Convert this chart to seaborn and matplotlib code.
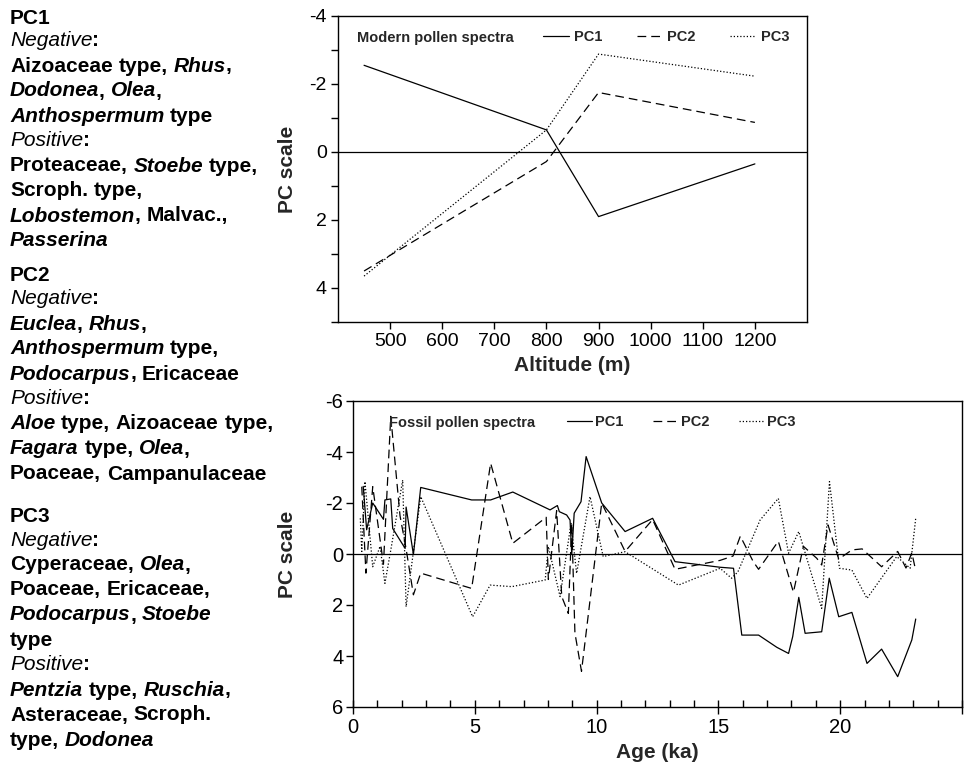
import matplotlib
matplotlib.use("Agg")
import matplotlib.pyplot as plt
from matplotlib.ticker import MultipleLocator, FixedLocator, FixedFormatter
import numpy as np
import pandas as pd
import seaborn as sns

sns.set_theme(style="white")
plt.rcParams["font.family"] = ["Liberation Sans", "DejaVu Sans"]
plt.rcParams["axes.edgecolor"] = "black"
plt.rcParams["axes.unicode_minus"] = False
plt.rcParams["xtick.color"] = "black"
plt.rcParams["ytick.color"] = "black"

# ---- modern pollen spectra (altitude transect) ----
altitude = [450, 800, 900, 1200]
modern_pc1 = [-2.55, -0.65, 1.90, 0.35]
modern_pc2 = [3.50, 0.28, -1.75, -0.87]
modern_pc3 = [3.65, -0.65, -2.88, -2.23]

# ---- fossil pollen spectra (age in ka) ----
age_pc1 = [0.42, 0.56, 0.81, 1.25, 1.31, 1.55, 1.63, 2.14, 2.18, 2.48, 2.78, 4.87,
           5.65, 6.56, 8.09, 8.39, 8.47, 8.77, 8.91, 8.98, 9.08, 9.36, 9.57, 10.21,
           11.17, 12.30, 13.22, 15.07, 15.62, 15.96, 16.65, 17.40, 17.88, 18.05, 18.30,
           18.56, 19.24, 19.55, 19.94, 20.48, 21.10, 21.70, 22.36, 22.94, 23.10]
fossil_pc1 = [-2.65, -0.95, -2.00, -1.36, -2.12, -2.16, -1.00, -0.22, -1.84, 0.02, -2.61, -2.12,
              -2.12, -2.43, -1.73, -1.90, -1.66, -1.53, -1.33, 0.02, -1.60, -2.05, -3.82, -2.00,
              -0.88, -1.40, 0.30, 0.52, 0.56, 3.18, 3.18, 3.66, 3.90, 3.24, 1.70,
              3.11, 3.05, 0.95, 2.46, 2.29, 4.29, 3.73, 4.81, 3.37, 2.55]

age_pc2 = [0.36, 0.53, 0.81, 1.25, 1.55, 1.93, 2.18, 2.48, 2.78, 4.87, 5.65, 6.56,
           7.93, 8.02, 8.36, 8.57, 8.84, 8.98, 9.11, 9.38, 10.21, 11.17, 12.30, 13.22,
           15.07, 15.60, 15.90, 16.43, 16.65, 17.46, 18.08, 18.49, 19.04, 19.24, 19.50,
           19.94, 20.48, 20.90, 21.70, 22.36, 22.70, 22.94, 23.10]
fossil_pc2 = [-2.64, 0.75, -2.64, 0.40, -5.40, -1.50, -0.20, 1.60, 0.75, 1.35, -3.56, -0.42,
              -1.44, 1.00, -1.70, 1.67, 2.33, -1.20, 3.10, 4.60, -2.00, -0.10, -1.35, 0.60,
              0.25, 0.08, -0.70, 0.30, 0.60, -0.50, 1.50, -0.30, 0.17, 0.43, -1.14,
              0.20, -0.16, -0.20, 0.50, -0.10, 0.55, -0.05, 0.65]

age_pc3 = [0.30, 0.36, 0.49, 0.81, 1.11, 1.31, 1.55, 2.04, 2.18, 2.78, 4.91, 5.63,
           6.52, 7.89, 8.02, 8.50, 8.95, 9.18, 9.73, 10.27, 11.17, 13.36, 15.07, 15.54,
           15.80, 16.71, 17.46, 17.88, 18.30, 19.24, 19.56, 19.97, 20.48, 21.10, 22.32,
           22.87, 22.94, 23.10]
fossil_pc3 = [-1.40, -0.10, -2.84, 0.50, -0.30, 1.15, -0.15, -2.90, 2.07, -2.25, 2.46, 1.22,
              1.28, 1.02, -0.29, 1.67, -1.20, 0.76, -2.25, 0.10, -0.09, 1.22, 0.56, 0.95,
              0.70, -1.33, -2.18, -0.03, -0.88, 2.13, -2.84, 0.56, 0.63, 1.74, 0.10,
              0.56, -0.03, -1.40]

# ---- loading notes shown left of the plots: (text, style) segments per line ----
notes_pc1 = [
    [("PC1", "b")],
    [("Negative", "i"), (":", "b")],
    [("Aizoaceae type, ", "b"), ("Rhus", "bi"), (",", "b")],
    [("Dodonea", "bi"), (", ", "b"), ("Olea", "bi"), (",", "b")],
    [("Anthospermum", "bi"), (" type", "b")],
    [("Positive", "i"), (":", "b")],
    [("Proteaceae, ", "b"), ("Stoebe", "bi"), (" type,", "b")],
    [("Scroph. type,", "b")],
    [("Lobostemon", "bi"), (", Malvac.,", "b")],
    [("Passerina", "bi")],
]
notes_pc2 = [
    [("PC2", "b")],
    [("Negative", "i"), (":", "b")],
    [("Euclea", "bi"), (", ", "b"), ("Rhus", "bi"), (",", "b")],
    [("Anthospermum", "bi"), (" type,", "b")],
    [("Podocarpus", "bi"), (", Ericaceae", "b")],
    [("Positive", "i"), (":", "b")],
    [("Aloe", "bi"), (" type, Aizoaceae type,", "b")],
    [("Fagara", "bi"), (" type, ", "b"), ("Olea", "bi"), (",", "b")],
    [("Poaceae, Campanulaceae", "b")],
]
notes_pc3 = [
    [("PC3", "b")],
    [("Negative", "i"), (":", "b")],
    [("Cyperaceae, ", "b"), ("Olea", "bi"), (",", "b")],
    [("Poaceae, Ericaceae,", "b")],
    [("Podocarpus", "bi"), (", ", "b"), ("Stoebe", "bi")],
    [("type", "b")],
    [("Positive", "i"), (":", "b")],
    [("Pentzia", "bi"), (" type, ", "b"), ("Ruschia", "bi"), (",", "b")],
    [("Asteraceae, Scroph.", "b")],
    [("type, ", "b"), ("Dodonea", "bi")],
]

W, H = 972, 777
fig = plt.figure(figsize=(W / 100, H / 100), dpi=100)
ax1 = fig.add_axes([338 / W, 1 - 322 / H, 469 / W, 306 / H])
ax2 = fig.add_axes([353 / W, 1 - 707 / H, 609 / W, 306 / H])

LW = 0.9
DASH = (0, (7, 4))
DOT = (0, (1, 1.6))

# top panel
sns.lineplot(x=altitude, y=modern_pc1, ax=ax1, color="black", lw=LW, label="PC1", estimator=None)
sns.lineplot(x=altitude, y=modern_pc2, ax=ax1, color="black", lw=LW, linestyle=DASH, label="PC2", estimator=None)
sns.lineplot(x=altitude, y=modern_pc3, ax=ax1, color="black", lw=LW, linestyle=DOT, label="PC3", estimator=None)

# bottom panel
sns.lineplot(x=age_pc1, y=fossil_pc1, ax=ax2, color="black", lw=LW, label="PC1", estimator=None)
sns.lineplot(x=age_pc2, y=fossil_pc2, ax=ax2, color="black", lw=LW, linestyle=DASH, label="PC2", estimator=None)
sns.lineplot(x=age_pc3, y=fossil_pc3, ax=ax2, color="black", lw=LW, linestyle=DOT, label="PC3", estimator=None)

for ax in (ax1, ax2):
    ax.axhline(0, color="black", lw=0.9, zorder=1)
    for sp in ax.spines.values():
        sp.set_visible(True)
        sp.set_color("black")
        sp.set_linewidth(1.0)
    ax.set_ylabel("PC scale", fontsize=15, fontweight="bold")
    ax.grid(False)

# top axes formatting
ax1.set_xlim(400, 1300)
ax1.set_ylim(5, -4)
ax1.xaxis.set_major_locator(FixedLocator(range(500, 1201, 100)))
ax1.yaxis.set_major_locator(MultipleLocator(2))
ax1.yaxis.set_minor_locator(MultipleLocator(1))
ax1.tick_params(axis="both", which="both", direction="out", length=5, width=1.0,
                labelsize=14, pad=3, bottom=True, left=True)
ax1.set_xlabel("Altitude (m)", fontsize=15, fontweight="bold", labelpad=4)
ax1.yaxis.set_label_coords(-0.088, 0.5)

# bottom axes formatting
ax2.set_xlim(0, 25)
ax2.set_ylim(6, -6)
ax2.xaxis.set_major_locator(FixedLocator([0, 5, 10, 15, 20, 25]))
ax2.xaxis.set_major_formatter(FixedFormatter(["0", "5", "10", "15", "20", ""]))
ax2.xaxis.set_minor_locator(MultipleLocator(1))
ax2.yaxis.set_major_locator(MultipleLocator(2))
ax2.tick_params(axis="x", which="major", direction="inout", length=10, width=1.0,
                labelsize=14.5, pad=3, bottom=True)
ax2.tick_params(axis="x", which="minor", direction="in", length=5, width=1.0, bottom=True)
ax2.tick_params(axis="y", which="major", direction="out", length=5, width=1.0,
                labelsize=14.5, pad=2, left=True)
ax2.set_xlabel("Age (ka)", fontsize=15, fontweight="bold", labelpad=4)
ax2.yaxis.set_label_coords(-0.092, 0.5)

# in-panel titles and legends
leg_font = {"size": 10.5, "weight": "bold"}
ax1.text(0.04, 0.928, "Modern pollen spectra", transform=ax1.transAxes,
         fontsize=10.5, fontweight="bold", va="center", ha="left")
ax1.legend(loc="center left", bbox_to_anchor=(0.438, 0.93), ncol=3, frameon=False,
           prop=leg_font, handlelength=1.75, handletextpad=0.35, columnspacing=2.35,
           borderpad=0, borderaxespad=0)
ax2.text(0.059, 0.928, "Fossil pollen spectra", transform=ax2.transAxes,
         fontsize=10.5, fontweight="bold", va="center", ha="left")
ax2.legend(loc="center left", bbox_to_anchor=(0.351, 0.93), ncol=3, frameon=False,
           prop=leg_font, handlelength=1.75, handletextpad=0.2, columnspacing=2.0,
           borderpad=0, borderaxespad=0)

# left-hand description of PC loadings
renderer = fig.canvas.get_renderer()
FS = 15
space_px = 0.278 * FS * 100 / 72


def draw_line(x_px, y_px, segments):
    x = x_px
    prev_italic = False
    for text, style in segments:
        italic = "i" in style
        props = dict(fontsize=FS,
                     fontweight="bold" if "b" in style else "normal",
                     fontstyle="italic" if italic else "normal")
        if prev_italic and not italic and text[:1] in ",:":
            x -= 0.5
        words = text.split(" ")
        for k, word in enumerate(words):
            if k > 0:
                x += space_px
            if word:
                t = fig.text(x / W, 1 - y_px / H, word, va="center", ha="left",
                             color="black", **props)
                x = t.get_window_extent(renderer).x1
        prev_italic = italic


for start, block in ((18, notes_pc1), (276, notes_pc2), (517, notes_pc3)):
    for i, seg in enumerate(block):
        y = start + (23 if i > 0 else 0) + 25 * max(i - 1, 0)
        draw_line(10, y, seg)

fig.savefig("out.png", dpi=100)
